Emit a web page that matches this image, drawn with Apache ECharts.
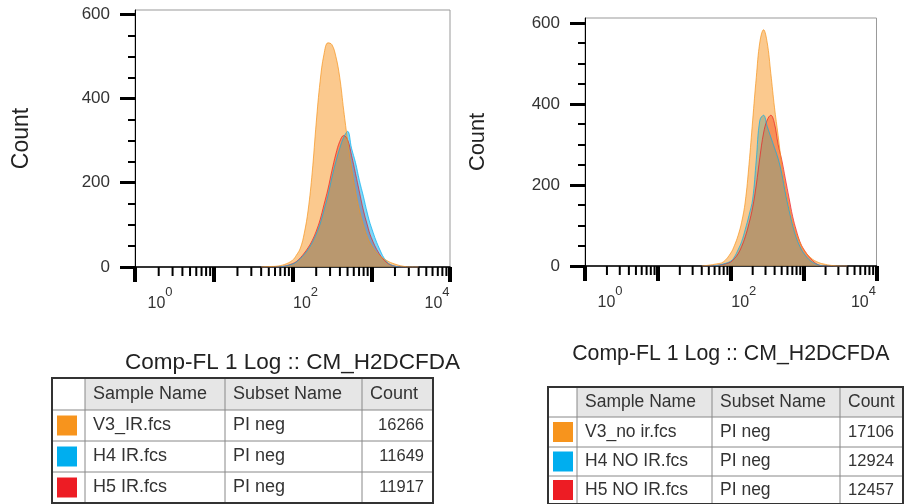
<!DOCTYPE html>
<html>
<head>
<meta charset="utf-8">
<script src="https://cdn.jsdelivr.net/npm/echarts@6/dist/echarts.min.js"></script>
<style>
  html, body { margin: 0; padding: 0; background: #fff; }
  #chart { width: 905px; height: 504px; }
</style>
</head>
<body>
<div id="chart"></div>
<script>
// fluorescence channel values (shared x grid for both overlays)
var xGrid = [40, 50, 63, 79, 100, 112, 126, 141, 158, 178, 200, 224, 251, 282, 316, 355, 398, 447, 501, 562, 631, 708, 794, 891, 1000, 1259, 1585, 1995, 2512, 3162, 3981];

// IR overlay (left)
var leftV3 = [0, 1, 2, 6, 16, 28, 45, 80, 135, 225, 342, 440, 505, 532, 528, 500, 450, 372, 300, 235, 180, 135, 100, 72, 52, 28, 15, 7, 2, 0, 0];
var leftH4 = [0, 0, 0, 2, 7, 12, 20, 30, 42, 58, 78, 102, 135, 170, 212, 250, 282, 308, 322, 282, 248, 205, 168, 128, 95, 45, 12, 2, 0, 0, 0];
var leftH5 = [0, 0, 0, 2, 8, 13, 22, 33, 46, 63, 85, 112, 148, 185, 228, 268, 298, 312, 302, 265, 222, 178, 135, 100, 70, 32, 10, 2, 0, 0, 0];

// no IR overlay (right)
var rightV3 = [0, 2, 5, 10, 32, 50, 75, 108, 158, 250, 360, 465, 553, 583, 552, 475, 392, 322, 250, 195, 150, 110, 80, 58, 40, 20, 9, 4, 1, 0, 0];
var rightH4 = [0, 0, 1, 5, 12, 22, 40, 60, 90, 125, 165, 262, 360, 372, 345, 318, 292, 265, 228, 180, 138, 100, 70, 48, 32, 12, 3, 0, 0, 0, 0];
var rightH5 = [0, 0, 1, 4, 10, 18, 30, 48, 72, 105, 145, 200, 268, 328, 360, 372, 352, 300, 262, 215, 168, 122, 88, 60, 42, 18, 3, 0, 0, 0, 0];

var yTicks = [0, 200, 400, 600];
var yMinorTicks = [50, 100, 150, 250, 300, 350, 450, 500, 550];

var headers = ['Sample Name', 'Subset Name', 'Count'];
var leftSamples = ['V3_IR.fcs', 'H4 IR.fcs', 'H5 IR.fcs'];
var rightSamples = ['V3_no ir.fcs', 'H4 NO IR.fcs', 'H5 NO IR.fcs'];
var subsets = ['PI neg', 'PI neg', 'PI neg'];
var leftCounts = [16266, 11649, 11917];
var rightCounts = [17106, 12924, 12457];
var sampleColors = ['#f7941d', '#00aeef', '#ed1c24'];

var FONT = 'Liberation Sans, Arial, sans-serif';
var axisTitle = 'Comp-FL 1 Log :: CM_H2DCFDA';

// minor log ticks 2..9 per decade
var minorTicks = [];
for (var d = 1; d < 10000; d *= 10) {
    for (var k = 2; k <= 9; k++) minorTicks.push([k * d, 0]);
}

function pairs(ys) {
    return xGrid.map(function (x, i) { return [x, ys[i]]; });
}

function xLabel(value) {
    if (value === 1) return '{b0|10}{s|0}';
    if (value === 100) return '{b2|10}{s|2}';
    if (value === 10000) return '{b|10}{s4|4}';
    return '';
}

function makeAxes(idx, ymax, titleSize, titleGap, nameGap) {
    var xa = {
        type: 'log', logBase: 10, min: 1, max: 10000, gridIndex: idx,
        axisLine: { show: true, lineStyle: { color: '#000', width: 1.5 } },
        axisTick: { show: true, length: 15, lineStyle: { color: '#000', width: 4 } },
        splitLine: { show: false },
        axisLabel: {
            margin: 19, formatter: xLabel, color: '#333', fontFamily: FONT,
            rich: {
                b:  { fontSize: 16, fontFamily: FONT, color: '#333', verticalAlign: 'bottom', lineHeight: 26 },
                b0: { fontSize: 16, fontFamily: FONT, color: '#333', verticalAlign: 'bottom', lineHeight: 26, padding: [0, 0, 0, 50] },
                b2: { fontSize: 16, fontFamily: FONT, color: '#333', verticalAlign: 'bottom', lineHeight: 26, padding: [0, 0, 0, 26] },
                s:  { fontSize: 13, fontFamily: FONT, color: '#333', verticalAlign: 'top', lineHeight: 14 },
                s4: { fontSize: 13, fontFamily: FONT, color: '#333', verticalAlign: 'top', lineHeight: 14, padding: [0, 26, 0, 0] }
            }
        },
        name: axisTitle, nameLocation: 'middle', nameGap: titleGap,
        nameTextStyle: { fontSize: titleSize, fontFamily: FONT, color: '#222' }
    };
    var ya = {
        type: 'value', min: 0, max: ymax, interval: 200, gridIndex: idx, position: 'left',
        axisLine: { show: true, lineStyle: { color: '#000', width: 1 } },
        axisTick: { show: true, length: 15, customValues: yTicks, lineStyle: { color: '#000', width: 3 } },
        splitLine: { show: false },
        axisLabel: {
            margin: 25, fontSize: 17, fontFamily: FONT, color: '#333', customValues: yTicks
        },
        name: 'Count', nameLocation: 'middle', nameGap: nameGap,
        nameTextStyle: { fontSize: titleSize + 0.5, fontFamily: FONT, color: '#222' }
    };
    // second left axis, only for the minor ticks
    var yMinor = {
        type: 'value', min: 0, max: ymax, gridIndex: idx, position: 'left', offset: 0,
        axisLine: { show: false },
        axisTick: { show: true, length: 7, customValues: yMinorTicks, lineStyle: { color: '#000', width: 2 } },
        axisLabel: { show: false },
        splitLine: { show: false }
    };
    return [xa, ya, yMinor];
}

function histSeries(idx, name, ys, color) {
    return {
        type: 'line', name: name, xAxisIndex: idx, yAxisIndex: idx * 2,
        data: pairs(ys), smooth: 0.4, symbol: 'none', silent: true,
        lineStyle: { color: color, width: 1, opacity: 0.7 },
        areaStyle: { color: color, opacity: 0.5 }
    };
}

function minorTickSeries(idx) {
    return {
        type: 'custom', xAxisIndex: idx, yAxisIndex: idx * 2, silent: true, clip: false,
        data: minorTicks,
        renderItem: function (params, api) {
            var p = api.coord([api.value(0), 0]);
            return {
                type: 'line',
                shape: { x1: p[0], y1: p[1], x2: p[0], y2: p[1] + 9 },
                style: { stroke: '#000', lineWidth: 2 }
            };
        }
    };
}

function tableGraphics(x0, y0, colW, rowH, samples, counts, fs, cfs) {
    var els = [];
    var totalW = colW.reduce(function (a, b) { return a + b; }, 0);
    var totalH = rowH.reduce(function (a, b) { return a + b; }, 0);
    var xs = [x0];
    colW.forEach(function (w) { xs.push(xs[xs.length - 1] + w); });
    var ys = [y0];
    rowH.forEach(function (h) { ys.push(ys[ys.length - 1] + h); });
    // header background
    els.push({ type: 'rect', shape: { x: xs[1], y: ys[0], width: xs[4] - xs[1], height: rowH[0] },
        style: { fill: '#e6e6e6' } });
    // grid lines
    for (var c = 1; c < 4; c++) {
        els.push({ type: 'line', shape: { x1: xs[c], y1: ys[0], x2: xs[c], y2: ys[4] },
            style: { stroke: '#888', lineWidth: 1 } });
    }
    for (var r = 1; r < 4; r++) {
        els.push({ type: 'line', shape: { x1: xs[0], y1: ys[r], x2: xs[4], y2: ys[r] },
            style: { stroke: '#888', lineWidth: 1 } });
    }
    els.push({ type: 'rect', shape: { x: x0, y: y0, width: totalW, height: totalH },
        style: { fill: 'none', stroke: '#333', lineWidth: 2 } });
    // header text
    headers.forEach(function (h, i) {
        els.push({ type: 'text', x: xs[i + 1] + 8, y: ys[0] + rowH[0] / 2,
            style: { text: h, fontSize: fs, fontFamily: FONT, fill: '#333', verticalAlign: 'middle' } });
    });
    samples.forEach(function (s, i) {
        var cy = ys[i + 1] + rowH[i + 1] / 2;
        els.push({ type: 'rect', shape: { x: xs[0] + 5, y: cy - 10, width: 20, height: 20 },
            style: { fill: sampleColors[i] } });
        els.push({ type: 'text', x: xs[1] + 8, y: cy,
            style: { text: s, fontSize: fs, fontFamily: FONT, fill: '#333', verticalAlign: 'middle' } });
        els.push({ type: 'text', x: xs[2] + 8, y: cy,
            style: { text: subsets[i], fontSize: fs, fontFamily: FONT, fill: '#333', verticalAlign: 'middle' } });
        els.push({ type: 'text', x: xs[4] - 9, y: cy,
            style: { text: String(counts[i]), fontSize: cfs, fontFamily: FONT, fill: '#333',
                     align: 'right', verticalAlign: 'middle' } });
    });
    return els;
}

var chart = echarts.init(document.getElementById('chart'));
var leftAxes = makeAxes(0, 610, 22.5, 84, 102);
var rightAxes = makeAxes(1, 612, 21.3, 78, 96);

var option = {
    animation: false,
    backgroundColor: '#fff',
    grid: [
        { left: 135, top: 10, width: 315, height: 257, show: true, borderColor: '#999', borderWidth: 1 },
        { left: 585, top: 18, width: 295, height: 248, show: true, borderColor: '#999', borderWidth: 1 }
    ],
    xAxis: [leftAxes[0], rightAxes[0]],
    yAxis: [leftAxes[1], leftAxes[2], rightAxes[1], rightAxes[2]],
    series: [
        histSeries(0, 'H5 IR.fcs', leftH5, sampleColors[2]),
        histSeries(0, 'H4 IR.fcs', leftH4, sampleColors[1]),
        histSeries(0, 'V3_IR.fcs', leftV3, sampleColors[0]),
        histSeries(1, 'H5 NO IR.fcs', rightH5, sampleColors[2]),
        histSeries(1, 'H4 NO IR.fcs', rightH4, sampleColors[1]),
        histSeries(1, 'V3_no ir.fcs', rightV3, sampleColors[0]),
        minorTickSeries(0),
        minorTickSeries(1)
    ],
    graphic: tableGraphics(52, 378, [33, 140, 137, 71], [32, 31, 31, 31], leftSamples, leftCounts, 18, 16.5)
        .concat(tableGraphics(548, 387, [29, 135, 128, 63], [30, 30, 29, 28], rightSamples, rightCounts, 17.5, 16.5))
};
chart.setOption(option);
</script>
</body>
</html>
